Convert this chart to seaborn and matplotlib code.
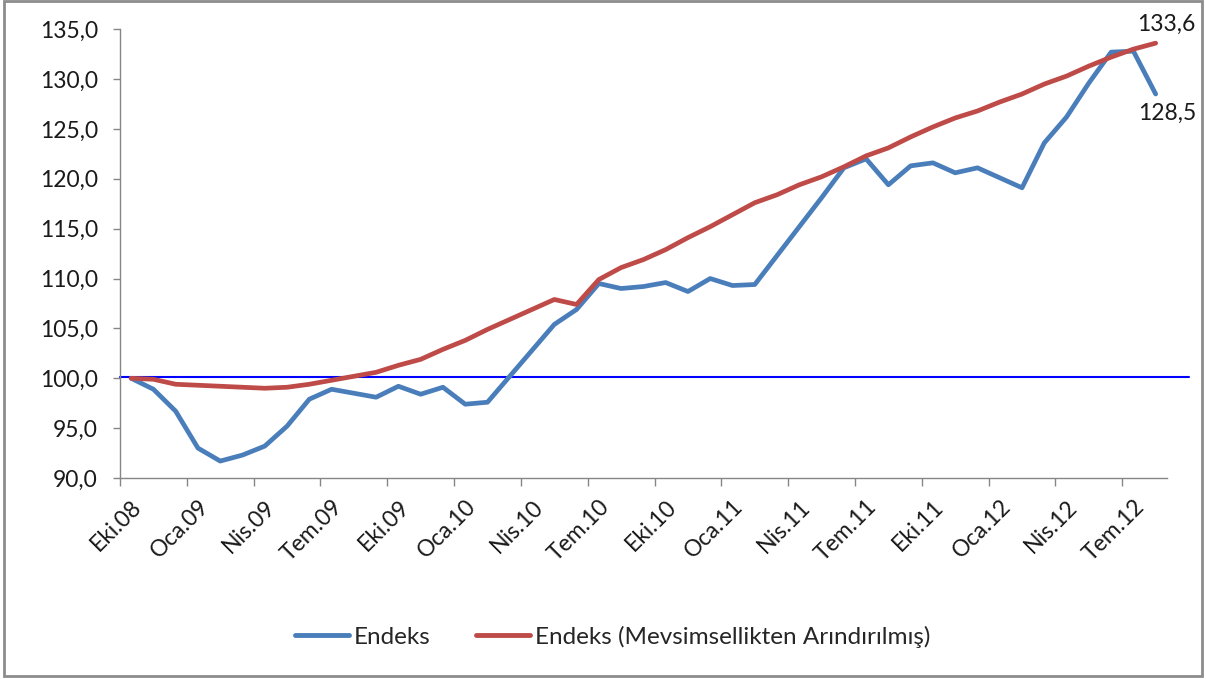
import numpy as np
import pandas as pd
import matplotlib
matplotlib.use("Agg")
import matplotlib.pyplot as plt
import seaborn as sns
from matplotlib.ticker import FuncFormatter, FixedLocator
from matplotlib.patches import Rectangle

# monthly categories Eki.08 .. Agu.12
months = ["Eki", "Kas", "Ara", "Oca", "Şub", "Mar", "Nis", "May", "Haz", "Tem", "Ağu", "Eyl"]
labels = []
for k in range(47):
    yr = 8 + (9 + k) // 12
    labels.append(f"{months[k % 12]}.{yr:02d}")

endeks = [100.0, 98.9, 96.7, 93.0, 91.7, 92.3, 93.2, 95.2, 97.9, 98.9,
          98.5, 98.1, 99.2, 98.4, 99.1, 97.4, 97.6, 100.2, 102.8, 105.4,
          106.9, 109.5, 109.0, 109.2, 109.6, 108.7, 110.0, 109.3, 109.4, 112.3,
          115.2, 118.1, 121.1, 122.0, 119.4, 121.3, 121.6, 120.6, 121.1, 120.1,
          119.1, 123.6, 126.2, 129.6, 132.7, 132.8, 128.5]
endeks_ma = [100.0, 99.9, 99.4, 99.3, 99.2, 99.1, 99.0, 99.1, 99.4, 99.8,
             100.2, 100.6, 101.3, 101.9, 102.9, 103.8, 104.9, 105.9, 106.9, 107.9,
             107.4, 109.9, 111.1, 111.9, 112.9, 114.1, 115.2, 116.4, 117.6, 118.4,
             119.4, 120.2, 121.2, 122.3, 123.1, 124.2, 125.2, 126.1, 126.8, 127.7,
             128.5, 129.5, 130.3, 131.3, 132.2, 133.0, 133.6]
ref_level = 100.15

df = pd.DataFrame({"i": np.arange(len(endeks)), "Endeks": endeks,
                   "Endeks (Mevsimsellikten Arındırılmış)": endeks_ma})
long = df.melt(id_vars="i", var_name="seri", value_name="deger")

sns.set_style("white")
plt.rcParams["font.family"] = ["Lato", "DejaVu Sans"]
FS = 16.5
TXT = "#1a1a1a"

fig = plt.figure(figsize=(12.06, 6.79), dpi=100)
ax = fig.add_axes([0.0995, 0.296, 0.868, 0.661])

sns.lineplot(data=long, x="i", y="deger", hue="seri", ax=ax,
             palette=["#4A7EBB", "#BE4B48"], linewidth=3.4, legend=True)
ax.plot([-0.5, 47.5], [ref_level, ref_level], color="#0000FF", lw=1.5,
        clip_on=False, zorder=1)

ax.set_xlim(-0.5, 46.5)
ax.set_ylim(90, 135)
ax.set_xlabel("")
ax.set_ylabel("")

ax.yaxis.set_major_locator(FixedLocator(np.arange(90, 136, 5)))
ax.yaxis.set_major_formatter(FuncFormatter(lambda v, p: f"{v:.1f}".replace(".", ",")))

pos = list(range(0, 47, 3))
ax.set_xticks(pos)
ax.set_xticklabels([labels[p] for p in pos], rotation=45, ha="right",
                   rotation_mode="anchor")
ax.set_xticks([p - 0.5 for p in pos], minor=True)
ax.tick_params(axis="x", which="major", length=0, pad=13, labelsize=FS, colors=TXT)
ax.tick_params(axis="x", which="minor", length=6, width=1, color="#868686", direction="out")
ax.tick_params(axis="y", length=5, width=1, color="#868686", direction="out",
               labelsize=FS, labelcolor=TXT, pad=11)
ax.tick_params(bottom=True, left=True, which="both")

for s in ["top", "right"]:
    ax.spines[s].set_visible(False)
for s in ["left", "bottom"]:
    ax.spines[s].set_color("#868686")
    ax.spines[s].set_linewidth(1)

ax.annotate(f"{endeks_ma[-1]:.1f}".replace(".", ","), (46, endeks_ma[-1]),
            xytext=(8, 6), textcoords="offset points", ha="center", va="bottom",
            fontsize=FS, color=TXT, annotation_clip=False)
ax.annotate(f"{endeks[-1]:.1f}".replace(".", ","), (46, endeks[-1]),
            xytext=(8, -6), textcoords="offset points", ha="center", va="top",
            fontsize=FS, color=TXT, annotation_clip=False)

handles, texts = ax.get_legend_handles_labels()
ax.get_legend().remove()
leg = fig.legend(handles, texts, loc="center", bbox_to_anchor=(0.508, 0.062), ncol=2,
                 frameon=False, fontsize=17.5, handlelength=2.2, handletextpad=0.2,
                 columnspacing=1.9)
for h in leg.get_lines():
    h.set_linewidth(3.5)

fig.patches.append(Rectangle((0.003, 0.005), 0.994, 0.993, transform=fig.transFigure,
                             fill=False, edgecolor="#8c8c8c", linewidth=2))

fig.savefig("out.png", dpi=100)
